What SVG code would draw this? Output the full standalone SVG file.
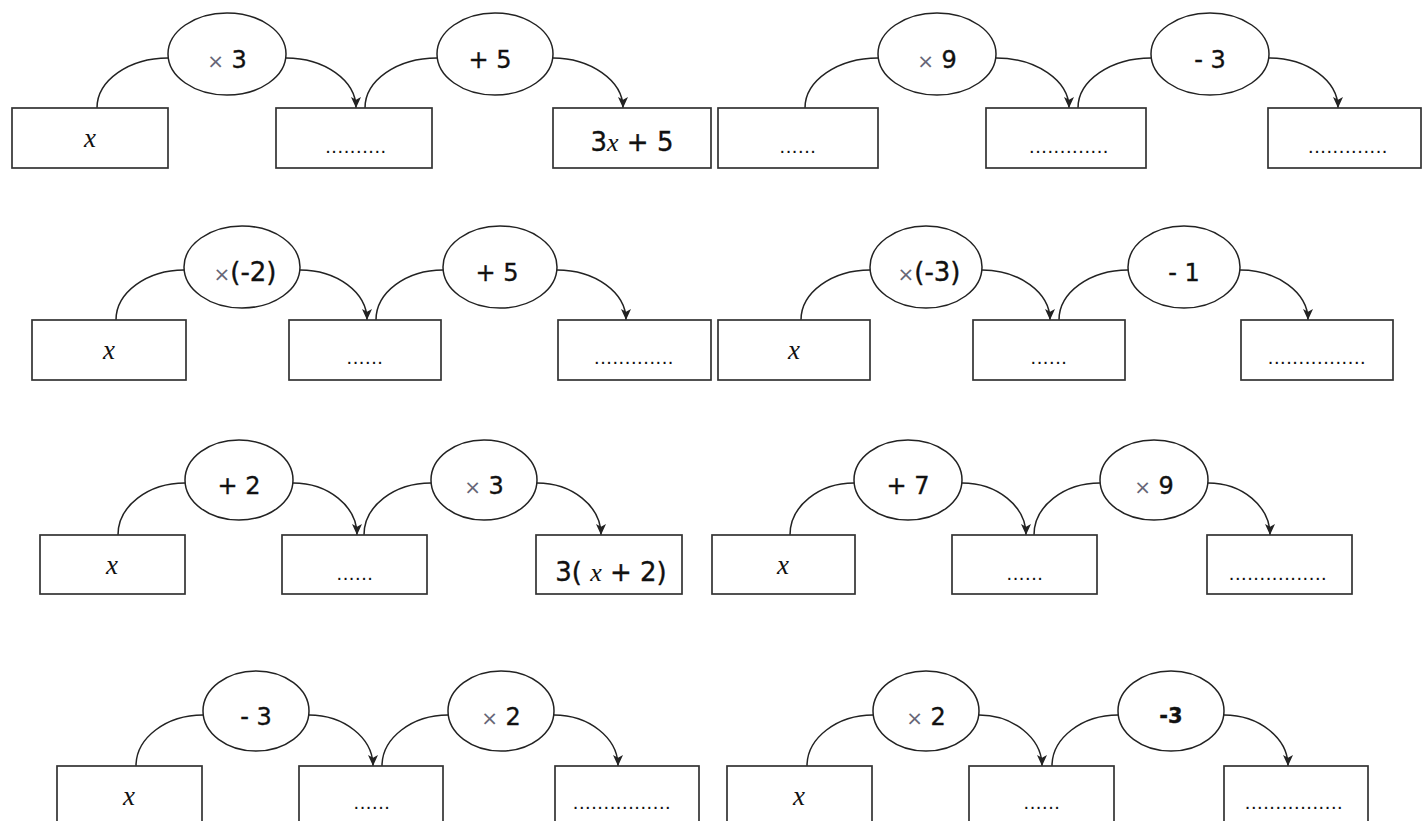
<svg xmlns="http://www.w3.org/2000/svg" width="1423" height="821" viewBox="0 0 1423 821">
<style>
.box{fill:#fff;stroke:#333;stroke-width:1.7}
.op{fill:#fff;stroke:#222;stroke-width:1.5}
.arc{fill:none;stroke:#222;stroke-width:1.5}
.lbl{font-family:"DejaVu Sans",sans-serif;font-size:24px;fill:#111;stroke:#111;stroke-width:0.35;text-anchor:middle}
.tm{font-size:20px;fill:#667;stroke:none}
.big{font-size:26px}
.bold{font-weight:bold;font-size:21px}
.var{font-family:"Liberation Serif",serif;font-style:italic;font-size:27px;fill:#111;text-anchor:middle}
.vi{font-family:"Liberation Serif",serif;font-style:italic;stroke:none}
.dots{font-family:"Liberation Sans",sans-serif;font-size:20px;letter-spacing:0.6px;fill:#111;text-anchor:middle}
.expr{font-family:"DejaVu Sans",sans-serif;font-size:26px;fill:#111;stroke:#111;stroke-width:0.35;text-anchor:middle}
</style>
<defs>
<marker id="ah" markerWidth="14" markerHeight="14" refX="11" refY="5.5" orient="auto" markerUnits="userSpaceOnUse">
<path d="M0,0.5 L11,5.5 L0,10.5 L2.8,5.5 Z" fill="#222"/>
</marker>
</defs>
<rect width="1423" height="821" fill="#fff"/>
<g id="connectors">
<path class="arc" d="M97,108 C97,80.5 129,58 168,58"/>
<path class="arc" marker-end="url(#ah)" d="M286,58 C324.5,58 356,80.5 356,108"/>
<path class="arc" d="M365,108 C365,80.5 397,58 437,58"/>
<path class="arc" marker-end="url(#ah)" d="M553,58 C590,58 623,80.5 623,108"/>
<path class="arc" d="M805,108 C805,80.5 838,58 878,58"/>
<path class="arc" marker-end="url(#ah)" d="M996,58 C1036,58 1069,80.5 1069,108"/>
<path class="arc" d="M1078,108 C1078,80.5 1111,58 1151,58"/>
<path class="arc" marker-end="url(#ah)" d="M1269,58 C1307,58 1338,80.5 1338,108"/>
<path class="arc" d="M116,320 C116,292.5 147,270 184,270"/>
<path class="arc" marker-end="url(#ah)" d="M300,270 C337,270 367,292.5 367,320"/>
<path class="arc" d="M376,320 C376,292.5 406,270 443,270"/>
<path class="arc" marker-end="url(#ah)" d="M557,270 C595,270 626,292.5 626,320"/>
<path class="arc" d="M801,320 C801,292.5 832,270 870,270"/>
<path class="arc" marker-end="url(#ah)" d="M982,270 C1019,270 1050,292.5 1050,320"/>
<path class="arc" d="M1059,320 C1059,292.5 1090,270 1128,270"/>
<path class="arc" marker-end="url(#ah)" d="M1240,270 C1277,270 1308,292.5 1308,320"/>
<path class="arc" d="M118,535 C118,506 148,483 185,483"/>
<path class="arc" marker-end="url(#ah)" d="M293,483 C328,483 357,506 357,535"/>
<path class="arc" d="M364,535 C364,506 394,483 431,483"/>
<path class="arc" marker-end="url(#ah)" d="M537,483 C572,483 601,506 601,535"/>
<path class="arc" d="M790,535 C790,506 819,483 854,483"/>
<path class="arc" marker-end="url(#ah)" d="M962,483 C997,483 1026,506 1026,535"/>
<path class="arc" d="M1034,535 C1034,506 1064,483 1100,483"/>
<path class="arc" marker-end="url(#ah)" d="M1208,483 C1242,483 1270,506 1270,535"/>
<path class="arc" d="M136,766 C136,738 166,715 203,715"/>
<path class="arc" marker-end="url(#ah)" d="M309,715 C344,715 373,738 373,766"/>
<path class="arc" d="M382,766 C382,738 412,715 448,715"/>
<path class="arc" marker-end="url(#ah)" d="M554,715 C589,715 618,738 618,766"/>
<path class="arc" d="M807,766 C807,738 837,715 873,715"/>
<path class="arc" marker-end="url(#ah)" d="M979,715 C1013,715 1042,738 1042,766"/>
<path class="arc" d="M1052,766 C1052,738 1082,715 1118,715"/>
<path class="arc" marker-end="url(#ah)" d="M1224,715 C1259,715 1288,738 1288,766"/>
</g>
<g id="d1">
<g id="d1-b1"><rect class="box" x="12" y="108" width="156" height="60"/><text class="var" x="90" y="147">x</text></g>
<g id="d1-o1"><ellipse class="op" cx="227" cy="54" rx="59" ry="41"/><text class="lbl" x="227" y="68"><tspan class="tm">×</tspan> 3</text></g>
<g id="d1-b2"><rect class="box" x="276" y="108" width="156" height="60"/><text class="dots" x="356" y="153">..........</text></g>
<g id="d1-o2"><ellipse class="op" cx="495" cy="54" rx="58" ry="41"/><text class="lbl" x="490" y="68">+ 5</text></g>
<g id="d1-b3"><rect class="box" x="553" y="108" width="158" height="60"/><text class="expr" x="632" y="151">3<tspan class="vi">x</tspan> + 5</text></g>
</g>
<g id="d2">
<g id="d2-b1"><rect class="box" x="718" y="108" width="160" height="60"/><text class="dots" x="798" y="153">......</text></g>
<g id="d2-o1"><ellipse class="op" cx="937" cy="54" rx="59" ry="41"/><text class="lbl" x="937" y="68"><tspan class="tm">×</tspan> 9</text></g>
<g id="d2-b2"><rect class="box" x="986" y="108" width="160" height="60"/><text class="dots" x="1069" y="153">.............</text></g>
<g id="d2-o2"><ellipse class="op" cx="1210" cy="54" rx="59" ry="41"/><text class="lbl" x="1210" y="68">- 3</text></g>
<g id="d2-b3"><rect class="box" x="1268" y="108" width="153" height="60"/><text class="dots" x="1348" y="153">.............</text></g>
</g>
<g id="d3">
<g id="d3-b1"><rect class="box" x="32" y="320" width="154" height="60"/><text class="var" x="109" y="359">x</text></g>
<g id="d3-o1"><ellipse class="op" cx="242" cy="267" rx="58" ry="41"/><text class="lbl" x="245" y="281"><tspan class="tm">×</tspan><tspan class="big">(-2)</tspan></text></g>
<g id="d3-b2"><rect class="box" x="289" y="320" width="152" height="60"/><text class="dots" x="365" y="364">......</text></g>
<g id="d3-o2"><ellipse class="op" cx="500" cy="267" rx="57" ry="41"/><text class="lbl" x="497" y="281">+ 5</text></g>
<g id="d3-b3"><rect class="box" x="558" y="320" width="153" height="60"/><text class="dots" x="634" y="364">.............</text></g>
</g>
<g id="d4">
<g id="d4-b1"><rect class="box" x="718" y="320" width="152" height="60"/><text class="var" x="794" y="359">x</text></g>
<g id="d4-o1"><ellipse class="op" cx="926" cy="267" rx="56" ry="41"/><text class="lbl" x="929" y="281"><tspan class="tm">×</tspan><tspan class="big">(-3)</tspan></text></g>
<g id="d4-b2"><rect class="box" x="973" y="320" width="152" height="60"/><text class="dots" x="1049" y="364">......</text></g>
<g id="d4-o2"><ellipse class="op" cx="1184" cy="267" rx="56" ry="41"/><text class="lbl" x="1184" y="281">- 1</text></g>
<g id="d4-b3"><rect class="box" x="1241" y="320" width="152" height="60"/><text class="dots" x="1317" y="364">................</text></g>
</g>
<g id="d5">
<g id="d5-b1"><rect class="box" x="40" y="535" width="145" height="59"/><text class="var" x="112" y="574">x</text></g>
<g id="d5-o1"><ellipse class="op" cx="239" cy="480" rx="54" ry="40"/><text class="lbl" x="239" y="494">+ 2</text></g>
<g id="d5-b2"><rect class="box" x="282" y="535" width="145" height="59"/><text class="dots" x="355" y="580">......</text></g>
<g id="d5-o2"><ellipse class="op" cx="484" cy="480" rx="53" ry="40"/><text class="lbl" x="484" y="494"><tspan class="tm">×</tspan> 3</text></g>
<g id="d5-b3"><rect class="box" x="536" y="535" width="146" height="59"/><text class="expr" x="611" y="581">3( <tspan class="vi">x</tspan> + 2)</text></g>
</g>
<g id="d6">
<g id="d6-b1"><rect class="box" x="712" y="535" width="143" height="59"/><text class="var" x="783" y="574">x</text></g>
<g id="d6-o1"><ellipse class="op" cx="908" cy="480" rx="54" ry="40"/><text class="lbl" x="908" y="494">+ 7</text></g>
<g id="d6-b2"><rect class="box" x="952" y="535" width="145" height="59"/><text class="dots" x="1025" y="580">......</text></g>
<g id="d6-o2"><ellipse class="op" cx="1154" cy="480" rx="54" ry="40"/><text class="lbl" x="1154" y="494"><tspan class="tm">×</tspan> 9</text></g>
<g id="d6-b3"><rect class="box" x="1207" y="535" width="145" height="59"/><text class="dots" x="1278" y="580">................</text></g>
</g>
<g id="d7">
<g id="d7-b1"><rect class="box" x="57" y="766" width="145" height="60"/><text class="var" x="129" y="805">x</text></g>
<g id="d7-o1"><ellipse class="op" cx="256" cy="711" rx="53" ry="40"/><text class="lbl" x="256" y="725">- 3</text></g>
<g id="d7-b2"><rect class="box" x="299" y="766" width="144" height="60"/><text class="dots" x="372" y="809">......</text></g>
<g id="d7-o2"><ellipse class="op" cx="501" cy="711" rx="53" ry="40"/><text class="lbl" x="501" y="725"><tspan class="tm">×</tspan> 2</text></g>
<g id="d7-b3"><rect class="box" x="555" y="766" width="144" height="60"/><text class="dots" x="622" y="809">................</text></g>
</g>
<g id="d8">
<g id="d8-b1"><rect class="box" x="727" y="766" width="145" height="60"/><text class="var" x="799" y="805">x</text></g>
<g id="d8-o1"><ellipse class="op" cx="926" cy="711" rx="53" ry="40"/><text class="lbl" x="926" y="725"><tspan class="tm">×</tspan> 2</text></g>
<g id="d8-b2"><rect class="box" x="969" y="766" width="145" height="60"/><text class="dots" x="1042" y="809">......</text></g>
<g id="d8-o2"><ellipse class="op" cx="1171" cy="711" rx="53" ry="40"/><text class="lbl bold" x="1171" y="723">-3</text></g>
<g id="d8-b3"><rect class="box" x="1224" y="766" width="144" height="60"/><text class="dots" x="1294" y="809">................</text></g>
</g>
</svg>
